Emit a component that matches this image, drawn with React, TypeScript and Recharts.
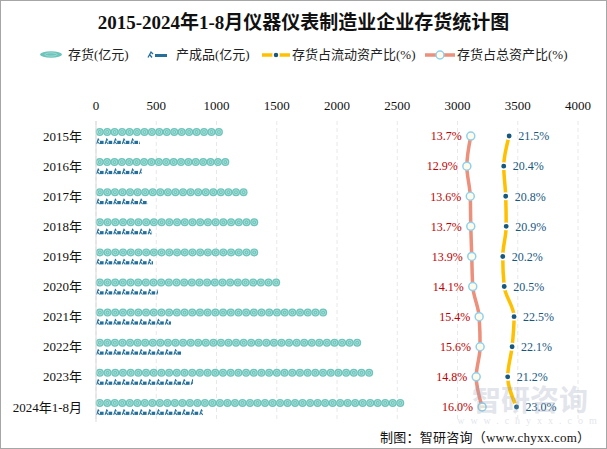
import React from "react";
import {
  ComposedChart,
  Bar,
  Line,
  XAxis,
  YAxis,
  CartesianGrid,
  LabelList,
} from "recharts";

const years = [
  "2015年",
  "2016年",
  "2017年",
  "2018年",
  "2019年",
  "2020年",
  "2021年",
  "2022年",
  "2023年",
  "2024年1-8月",
];
// 亿元
const inventory = [1051, 1104, 1256, 1345, 1345, 1527, 1917, 2199, 2299, 2556];
const finishedGoods = [365, 379, 429, 465, 473, 515, 622, 714, 805, 888];
// %
const currentAssetRatio = [21.5, 20.4, 20.8, 20.9, 20.2, 20.5, 22.5, 22.1, 21.2, 23.0];
const totalAssetRatio = [13.7, 12.9, 13.6, 13.7, 13.9, 14.1, 15.4, 15.6, 14.8, 16.0];

const valueTicks = [0, 500, 1000, 1500, 2000, 2500, 3000, 3500, 4000];
const pctDomain = [-62.5, 35.5];

const data = years.map((name, i) => ({
  name,
  inv: inventory[i],
  fin: finishedGoods[i],
  cur: currentAssetRatio[i],
  tot: totalAssetRatio[i],
}));

const SERIF = '"Liberation Serif", "Noto Sans CJK SC", serif';
const TEAL = "#6cc4bb";
const BLUE = "#24709b";

function CoinBar(props: any) {
  const { x, y, width, height } = props;
  if (!width || width <= 0) return null;
  const n = Math.max(1, Math.round(width / 7.6));
  const step = width / n;
  const r = height / 2;
  const cy = y + r;
  const coins = [];
  for (let i = 0; i < n; i++) {
    const cx = x + step * i + step / 2;
    coins.push(
      <g key={i}>
        <circle cx={cx} cy={cy} r={r} fill={TEAL} />
        <circle cx={cx} cy={cy} r={r * 0.6} fill="none" stroke="#a9e0d9" strokeWidth={1} />
        <circle cx={cx} cy={cy} r={r * 0.22} fill="#a9e0d9" />
      </g>
    );
  }
  return <g>{coins}</g>;
}

function WorkerBar(props: any) {
  const { x, y, width, height, index } = props;
  if (!width || width <= 0) return null;
  const step = 8.6;
  const n = Math.ceil(width / step);
  const id = `fin-clip-${index}`;
  const icons = [];
  for (let i = 0; i < n; i++) {
    const ix = x + step * i;
    icons.push(
      <g key={i}>
        <path
          d={`M${ix + 0.5},${y + height} L${ix + 2.2},${y} L${ix + 3.2},${y + 1.5} M${ix + 1.5},${y + 2.5} L${ix + 3.6},${y + height}`}
          stroke={BLUE}
          strokeWidth={1.1}
          fill="none"
        />
        <rect x={ix + 4} y={y + 1.8} width={3.6} height={height - 1.8} fill={BLUE} />
      </g>
    );
  }
  return (
    <g>
      <defs>
        <clipPath id={id}>
          <rect x={x} y={y - 1} width={width} height={height + 2} />
        </clipPath>
      </defs>
      <g clipPath={`url(#${id})`}>{icons}</g>
    </g>
  );
}

function LegendRow() {
  const ty = 59;
  return (
    <svg width={607} height={80} style={{ position: "absolute", left: 0, top: 0 }}>
      <text
        x={303.5}
        y={29}
        textAnchor="middle"
        fontSize={19}
        fontWeight="bold"
        fontFamily={SERIF}
        fill="#111"
      >
        2015-2024年1-8月仪器仪表制造业企业存货统计图
      </text>
      <g fontFamily={SERIF} fontSize={13} fill="#222">
        <ellipse cx={51} cy={54.5} rx={11} ry={3.3} fill={TEAL} />
        <ellipse cx={51} cy={54.5} rx={6} ry={1.6} fill="none" stroke="#a9e0d9" strokeWidth={0.8} />
        <text x={68} y={ty}>存货(亿元)</text>

        <path d="M148,57.5 L151,52 L153,54 M150,55 L152,57.5" stroke={BLUE} strokeWidth={1.3} fill="none" />
        <rect x={155} y={54} width={12} height={3} fill={BLUE} />
        <text x={176} y={ty}>产成品(亿元)</text>

        <line x1={262} y1={55} x2={290} y2={55} stroke="#ffc000" strokeWidth={3.5} />
        <circle cx={276} cy={55} r={3} fill="#17587f" stroke="#fff" strokeWidth={1.5} />
        <text x={292} y={ty}>存货占流动资产比(%)</text>

        <line x1={425} y1={55} x2={455} y2={55} stroke="#ec8f7b" strokeWidth={3.5} />
        <circle cx={440} cy={55} r={4} fill="#fffbe8" stroke="#8fd0ef" strokeWidth={1.5} />
        <text x={457} y={ty}>存货占总资产比(%)</text>
      </g>
    </svg>
  );
}

function Footer() {
  return (
    <svg width={607} height={449} style={{ position: "absolute", left: 0, top: 0, pointerEvents: "none" }}>
      <text x={530} y={411} textAnchor="middle" fontSize={29} fontWeight="bold" fontFamily={SERIF} fill="#9aa3b8" opacity={0.28}>
        智研咨询
      </text>
      <text x={530} y={424} textAnchor="middle" fontSize={10} letterSpacing={6} fontFamily={SERIF} fill="#9aa3b8" opacity={0.28}>
        www.chyxx.com
      </text>
      <text x={380} y={442} fontSize={13} fontFamily={SERIF} fill="#111" textLength={210} lengthAdjust="spacing">
        制图：智研咨询（www.chyxx.com）
      </text>
      <rect x={0.5} y={0.5} width={606} height={448} fill="none" stroke="#a6a6a6" />
    </svg>
  );
}

export default function App() {
  return (
    <div
      style={{
        position: "absolute",
        left: 0,
        top: 0,
        width: 607,
        height: 449,
        background: "#fff",
      }}
    >
      <LegendRow />
      <div style={{ position: "absolute", left: 0, top: 0 }}>
        <ComposedChart
          width={607}
          height={449}
          data={data}
          layout="vertical"
          margin={{ top: 91, right: 29, bottom: 27, left: 0 }}
          barGap={3}
        >
          <CartesianGrid horizontal={false} stroke="#e8e8e8" strokeDasharray="4 3" />
          <XAxis
            type="number"
            orientation="top"
            domain={[0, 4000]}
            ticks={valueTicks}
            axisLine={false}
            tickLine={false}
            tickMargin={5}
            height={30}
            tick={{ fontSize: 13, fill: "#111", fontFamily: SERIF }}
          />
          <XAxis xAxisId="pct" type="number" domain={pctDomain} hide />
          <YAxis
            type="category"
            dataKey="name"
            width={96}
            interval={0}
            axisLine={{ stroke: "#d9d9d9" }}
            tickLine={false}
            tickMargin={8}
            tick={{ fontSize: 13, fill: "#111", fontFamily: SERIF }}
          />
          <Bar dataKey="inv" barSize={8} shape={<CoinBar />} isAnimationActive={false} />
          <Bar dataKey="fin" barSize={5} shape={<WorkerBar />} isAnimationActive={false} />
          <Line
            xAxisId="pct"
            dataKey="tot"
            type="monotone"
            stroke="#ec8f7b"
            strokeWidth={3.5}
            dot={{ r: 4, fill: "#fffbe8", stroke: "#8fd0ef", strokeWidth: 1.5 }}
            isAnimationActive={false}
          >
            <LabelList
              dataKey="tot"
              position="left"
              offset={9}
              formatter={(v: any) => `${Number(v).toFixed(1)}%`}
              fill="#c00000"
              fontSize={12}
              fontFamily={SERIF}
            />
          </Line>
          <Line
            xAxisId="pct"
            dataKey="cur"
            type="monotone"
            stroke="#ffc000"
            strokeWidth={3.5}
            dot={{ r: 3.2, fill: "#17587f", stroke: "#fff", strokeWidth: 1.5 }}
            isAnimationActive={false}
          >
            <LabelList
              dataKey="cur"
              position="right"
              offset={9}
              formatter={(v: any) => `${Number(v).toFixed(1)}%`}
              fill="#17587f"
              fontSize={12}
              fontFamily={SERIF}
            />
          </Line>
        </ComposedChart>
      </div>
      <Footer />
    </div>
  );
}
